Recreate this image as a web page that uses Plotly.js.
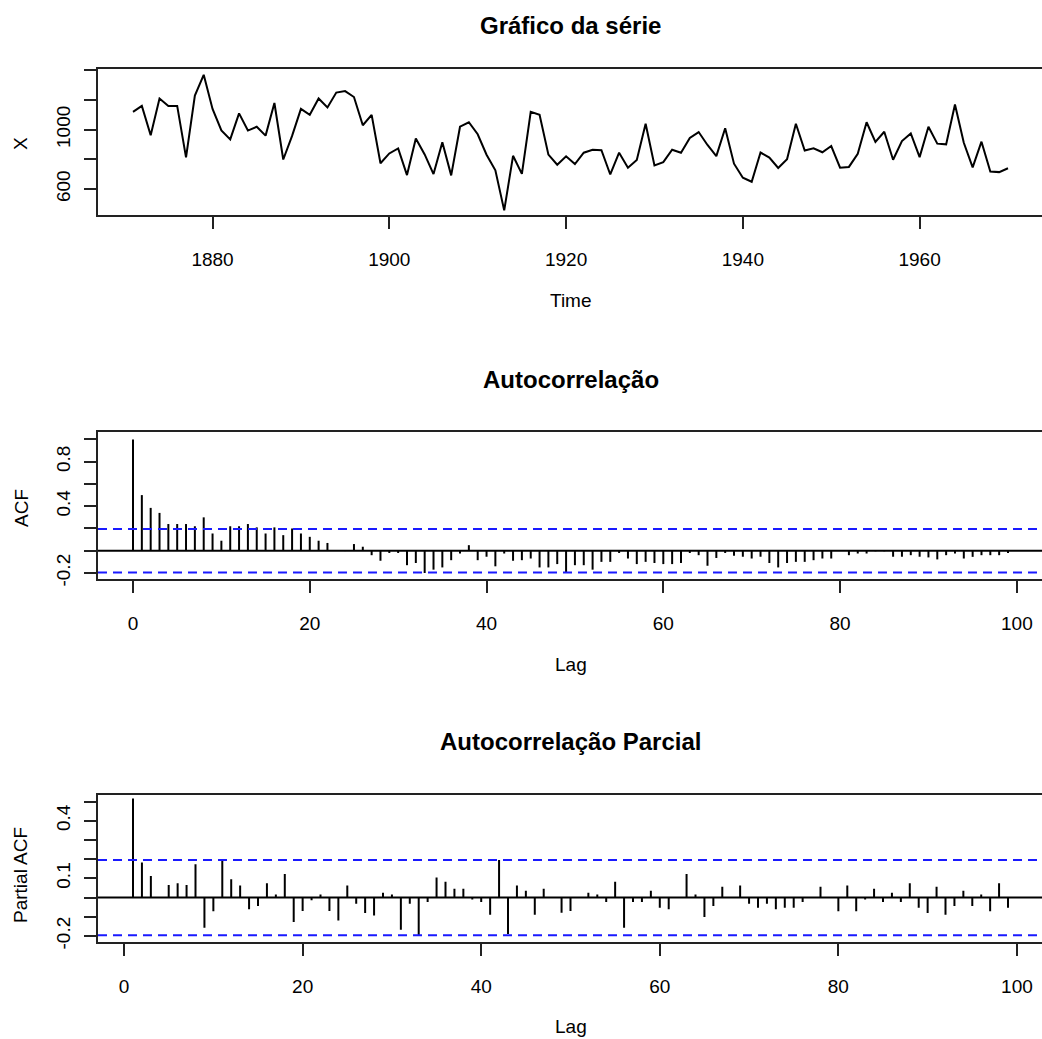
<!DOCTYPE html>
<html>
<head>
<meta charset="utf-8">
<script src="https://cdn.plot.ly/plotly-3.0.1.min.js"></script>
<style>
html,body{margin:0;padding:0;overflow:hidden;background:#fff;}
#chart{width:1050px;height:1039px;}
</style>
</head>
<body>
<div id="chart"></div>
<script>
// ---- data ----
const startYear = 1871;
const nile = [1120,1160,963,1210,1160,1160,813,1230,1370,1140,995,935,1110,994,1020,960,1180,799,958,1140,
  1100,1210,1150,1250,1260,1220,1030,1100,774,840,874,694,940,833,701,916,692,1020,1050,969,
  831,726,456,824,702,1120,1100,832,764,821,768,845,864,862,698,845,744,796,1040,759,
  781,865,845,944,984,897,822,1010,771,676,649,846,812,742,801,1040,860,874,848,890,
  744,749,838,1050,918,986,797,923,975,815,1020,906,901,1170,912,746,919,718,714,740];
const yearTicks = [1880,1900,1920,1940,1960];

// ACF, lags 0..99
const acfVals = [1.0,0.50,0.385,0.34,0.24,0.24,0.24,0.22,0.30,0.155,
  0.09,0.22,0.22,0.24,0.21,0.155,0.21,0.14,0.20,0.155,
  0.125,0.09,0.07,0.003,-0.003,0.06,0.036,-0.04,-0.09,-0.02,
  -0.02,-0.13,-0.11,-0.2,-0.17,-0.15,-0.085,-0.025,0.05,-0.085,
  -0.054,-0.14,-0.025,-0.09,-0.085,-0.07,-0.15,-0.15,-0.12,-0.2,
  -0.13,-0.13,-0.17,-0.10,-0.10,-0.02,-0.07,-0.12,-0.10,-0.11,
  -0.12,-0.12,-0.11,-0.02,-0.04,-0.135,-0.065,-0.02,-0.045,-0.054,
  -0.07,-0.054,-0.11,-0.15,-0.11,-0.10,-0.10,-0.085,-0.07,-0.07,
  0.002,-0.04,-0.025,-0.025,-0.005,-0.005,-0.054,-0.054,-0.04,-0.054,
  -0.06,-0.078,-0.04,-0.025,-0.07,-0.055,-0.04,-0.04,-0.04,-0.02];
const acfFirstLag = 0;

// PACF, lags 1..99
const pacfVals = [0.516,0.182,0.112,0.003,0.065,0.074,0.065,0.174,-0.158,-0.072,
  0.196,0.095,0.063,-0.061,-0.044,0.074,0.016,0.123,-0.128,-0.07,
  -0.014,0.016,-0.07,-0.119,0.063,-0.032,-0.081,-0.093,0.025,0.016,
  -0.168,-0.032,-0.198,-0.023,0.104,0.082,0.046,0.046,-0.01,-0.023,
  -0.09,0.196,-0.19,0.063,0.035,-0.09,0.046,0.002,-0.079,-0.07,
  0.003,0.025,0.016,-0.023,0.082,-0.158,-0.023,-0.023,0.035,-0.053,
  -0.061,0.002,0.123,0.016,-0.102,-0.044,0.056,0.002,0.063,-0.032,
  -0.053,-0.032,-0.061,-0.053,-0.053,-0.023,0.002,0.056,-0.002,-0.072,
  0.063,-0.072,-0.01,0.046,-0.023,0.025,-0.023,0.074,-0.053,-0.081,
  0.056,-0.09,-0.044,0.035,-0.044,0.016,-0.072,0.074,-0.053];
const pacfFirstLag = 1;
const lagTicks = [0,20,40,60,80,100];
const ci = 0.196;

// ---- build ----
const years = nile.map((_, i) => startYear + i);
function spikes(vals, first) {
  const xs = [], ys = [];
  vals.forEach((v, i) => { xs.push(first + i, first + i, null); ys.push(0, v, null); });
  return {xs, ys};
}
const a = spikes(acfVals, acfFirstLag);
const p = spikes(pacfVals, pacfFirstLag);

const H = 1039, L = 98, PW = 945;
const py = v => 1 - v / H;          // pixel y -> paper
const px = v => (v - L) / PW;       // pixel x -> paper
const FONT = '"Liberation Sans", Arial, sans-serif';
const lc = '#222';

const axBase = {
  showline: true, mirror: true, linecolor: lc, linewidth: 2,
  ticks: 'outside', ticklen: 12, tickwidth: 2, tickcolor: lc,
  showgrid: false, zeroline: false, fixedrange: true,
  tickfont: {family: FONT, size: 19, color: '#000'}
};
const xBase = Object.assign({}, axBase, {ticklabelstandoff: 14});
const yBase = Object.assign({}, axBase, {tickangle: -90, ticklabelstandoff: 6});

const traces = [
  {x: years, y: nile, type: 'scatter', mode: 'lines', xaxis: 'x', yaxis: 'y',
   line: {color: '#000', width: 2}, hoverinfo: 'skip'},
  {x: a.xs, y: a.ys, type: 'scatter', mode: 'lines', xaxis: 'x2', yaxis: 'y2',
   line: {color: '#000', width: 2}, hoverinfo: 'skip'},
  {x: p.xs, y: p.ys, type: 'scatter', mode: 'lines', xaxis: 'x3', yaxis: 'y3',
   line: {color: '#000', width: 2}, hoverinfo: 'skip'}
];

function hline(ax, y, dash, color) {
  return {type: 'line', xref: ax.x + ' domain', yref: ax.y, x0: 0, x1: 1, y0: y, y1: y,
          line: {color: color, width: 2, dash: dash}, layer: 'above'};
}
const shapes = [
  hline({x:'x2',y:'y2'}, 0, 'solid', '#000'),
  hline({x:'x2',y:'y2'}, ci, '9px,6px', '#1a1aff'),
  hline({x:'x2',y:'y2'}, -ci, '9px,6px', '#1a1aff'),
  hline({x:'x3',y:'y3'}, 0, 'solid', '#000'),
  hline({x:'x3',y:'y3'}, ci, '9px,6px', '#1a1aff'),
  hline({x:'x3',y:'y3'}, -ci, '9px,6px', '#1a1aff')
];

function ann(text, x, y, opts) {
  return Object.assign({text: text, xref: 'paper', yref: 'paper', x: px(x), y: py(y),
    xanchor: 'center', yanchor: 'middle', showarrow: false,
    font: {family: FONT, size: 19, color: '#000'}}, opts || {});
}
const titleFont = {family: FONT, size: 24, color: '#000', weight: 'bold'};
const annotations = [
  ann('<b>Gráfico da série</b>', 570.5, 25, {font: titleFont}),
  ann('<b>Autocorrelação</b>', 570.5, 379, {font: titleFont}),
  ann('<b>Autocorrelação Parcial</b>', 570.5, 741, {font: titleFont}),
  ann('Time', 570.5, 301),
  ann('Lag', 570.5, 664),
  ann('Lag', 570.5, 1026),
  ann('X', 21, 144, {textangle: -90}),
  ann('ACF', 21, 508, {textangle: -90}),
  ann('Partial ACF', 20, 875, {textangle: -90})
];

const layout = {
  width: 1050, height: H,
  margin: {l: L, r: 1050 - L - PW, t: 0, b: 0, pad: 0},
  paper_bgcolor: '#fff', plot_bgcolor: '#fff',
  showlegend: false,
  font: {family: FONT, size: 19, color: '#000'},
  xaxis: Object.assign({}, xBase, {anchor: 'y', range: [1867.04, 1973.96],
    tickvals: yearTicks, ticktext: yearTicks.map(String)}),
  yaxis: Object.assign({}, yBase, {anchor: 'x', domain: [py(215), py(69)], range: [425, 1409],
    tickvals: [600, 800, 1000, 1200, 1400], ticktext: ['600', '', '1000', '', '']}),
  xaxis2: Object.assign({}, xBase, {anchor: 'y2', range: [-3.96, 102.96],
    tickvals: lagTicks, ticktext: lagTicks.map(String)}),
  yaxis2: Object.assign({}, yBase, {anchor: 'x2', domain: [py(579), py(432)], range: [-0.254, 1.067],
    tickvals: [-0.2, 0, 0.2, 0.4, 0.6, 0.8, 1.0], ticktext: ['-0.2', '', '', '0.4', '', '0.8', '']}),
  xaxis3: Object.assign({}, xBase, {anchor: 'y3', range: [-2.92, 102.92],
    tickvals: lagTicks, ticktext: lagTicks.map(String)}),
  yaxis3: Object.assign({}, yBase, {anchor: 'x3', domain: [py(941.7), py(795)], range: [-0.230, 0.534],
    tickvals: [-0.2, -0.1, 0, 0.1, 0.2, 0.3, 0.4, 0.5], ticktext: ['-0.2', '', '', '0.1', '', '', '0.4', '']}),
  shapes: shapes,
  annotations: annotations
};

Plotly.newPlot('chart', traces, layout, {displayModeBar: false, staticPlot: true});
</script>
</body>
</html>
